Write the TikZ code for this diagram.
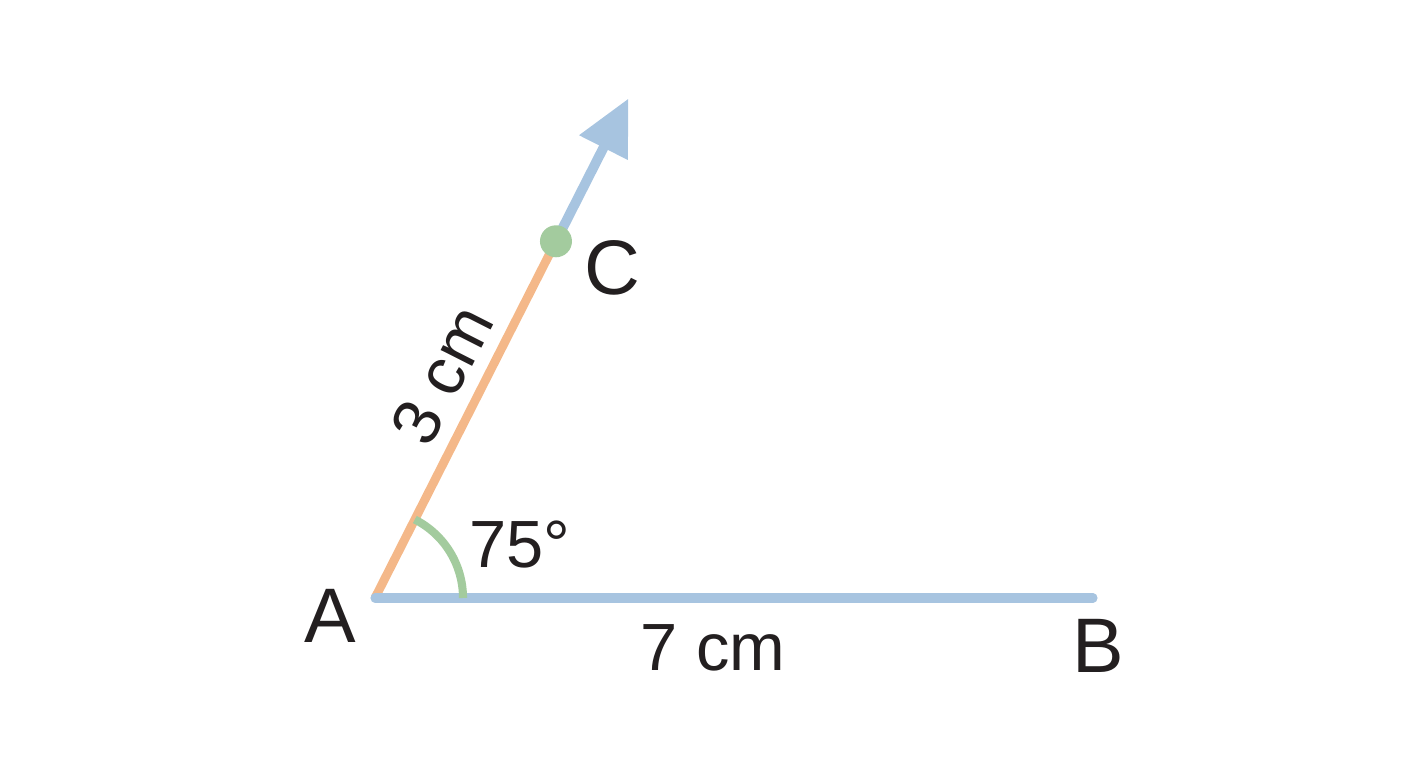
\documentclass[tikz,border=0pt]{standalone}
\usepackage{fontspec}
\setmainfont{Liberation Sans}
\usetikzlibrary{arrows.meta,calc}
\definecolor{segblue}{HTML}{A7C4E0}
\definecolor{segorange}{HTML}{F4B889}
\definecolor{anggreen}{HTML}{A3CB9E}
\definecolor{ink}{HTML}{231F20}
\tikzset{
  pt/.style={text=ink,font=\fontsize{22}{26}\selectfont},
  len/.style={text=ink,font=\fontsize{19}{23}\selectfont}
}

\begin{document}
\begin{tikzpicture}
  \useasboundingbox (0,0) rectangle (14.08,7.68);
  \coordinate (A) at (3.75,1.70);
  \coordinate (B) at (10.93,1.70);
  \coordinate (C) at ($(A)+(63.1:4.00)$);
  \coordinate (T) at ($(A)+(63.1:5.60)$);
  % ray and sides
  \draw[segblue, line width=2.8pt, -{Triangle[length=0.55cm,width=0.52cm]}] (C) -- (T);
  \draw[segorange, line width=2.5pt] (A) -- (C);
  \draw[segblue, line width=2.6pt, line cap=round] (A) -- (B);
  \draw[anggreen, line width=2.3pt] ([xshift=0.88cm]A) arc (0:63.1:0.88);
  \fill[anggreen] (C) circle (0.16);
  % labels
  \node[pt] (lA) at (3.30,1.52) {A};
  \node[pt] (lB) at (10.98,1.22) {B};
  \node[pt] (lC) at (6.12,5.00) {C};
  \node[len] (lAB) at (7.13,1.20) {7 cm};
  \node[len] (lAC) at (4.42,3.93) [rotate=63.1] {3 cm};
  \node[len] (lang) at (5.20,2.23) {75°};
\end{tikzpicture}
\end{document}
